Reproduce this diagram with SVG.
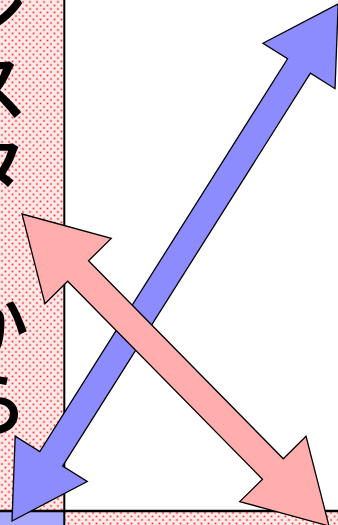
<svg xmlns="http://www.w3.org/2000/svg" width="338" height="525" viewBox="0 0 338 525">
<defs>
<pattern id="dots" width="7" height="7" patternUnits="userSpaceOnUse">
<rect width="7" height="7" fill="#ffeaea"/>
<circle cx="2" cy="2" r="1.4" fill="#ffb0b0"/>
<rect x="1.4" y="1.4" width="1.2" height="1.2" fill="#ff3030"/>
<circle cx="5.5" cy="5.5" r="1.4" fill="#ffb0b0"/>
<rect x="4.9" y="4.9" width="1.2" height="1.2" fill="#ff3030"/>
</pattern>
</defs>
<style>
.arrow{stroke:#000;stroke-width:1.3;stroke-linejoin:miter}
.rule{stroke:#000;fill:none}
.label{font-family:"Noto Sans CJK JP","Noto Sans",sans-serif;font-size:76px;font-weight:500;fill:#000}
</style>
<g id="cells">
<rect x="0" y="0" width="64.3" height="511" fill="url(#dots)"/>
<rect x="64.3" y="0" width="273.7" height="511" fill="#ffffff"/>
<rect x="0" y="511" width="64.3" height="14" fill="#a8a8ff"/>
<rect x="64.3" y="511" width="273.7" height="14" fill="url(#dots)"/>
</g>
<g id="label">
<text class="label" x="-9" y="-30" writing-mode="vertical-rl" letter-spacing="3">シスターから</text>
</g>
<g id="rules">
<line class="rule" x1="64.3" y1="0" x2="64.3" y2="525" stroke-width="2"/>
<line class="rule" x1="0" y1="511" x2="338" y2="511" stroke-width="2.5"/>
</g>
<g id="connectors">
<polygon id="blue-arrow" class="arrow" fill="#8c8cff" points="12,521 87.24,481.56 62.63,466.04 310.41,73.16 335.02,88.68 338.2,3.8 262.96,43.24 287.57,58.76 39.79,451.64 15.18,436.12"/>
<polygon id="pink-arrow" class="arrow" fill="#ffadad" points="22,214 111.26,238.41 88.52,260.78 283.3,458.74 306.04,436.37 329,526 239.74,501.59 262.48,479.22 67.7,281.26 44.96,303.63"/>
</g>
</svg>
